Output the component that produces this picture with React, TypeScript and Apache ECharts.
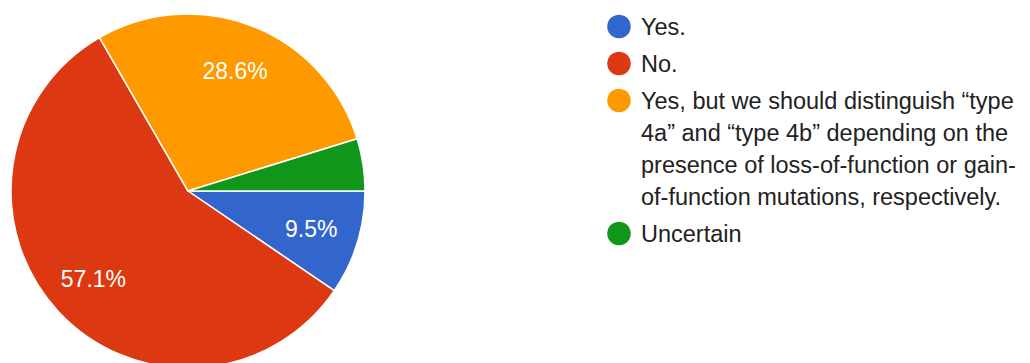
import React, { useEffect, useRef } from "react";
import * as echarts from "echarts";

const categories = [
  "Yes.",
  "No.",
  "Yes, but we should distinguish “type 4a” and “type 4b” depending on the presence of loss-of-function or gain-of-function mutations, respectively.",
  "Uncertain",
];
// wrapped legend lines for each category
const legendLines = [
  ["Yes."],
  ["No."],
  [
    "Yes, but we should distinguish “type",
    "4a” and “type 4b” depending on the",
    "presence of loss-of-function or gain-",
    "of-function mutations, respectively.",
  ],
  ["Uncertain"],
];
const counts = [2, 12, 6, 1];
const colors = ["#3366CC", "#DC3912", "#FF9900", "#109618"];

const FONT = "Arial, 'Liberation Sans', sans-serif";

export default function App() {
  const ref = useRef<HTMLDivElement>(null);
  useEffect(() => {
    if (!ref.current) return;
    const chart = echarts.init(ref.current, undefined, { renderer: "svg" });
    const data = categories.map((name, i) => ({
      name,
      value: counts[i],
      itemStyle: { color: colors[i] },
    }));
    const labelData = categories.map((name, i) => ({
      name,
      value: counts[i],
      itemStyle: { color: "rgba(0,0,0,0)" },
    }));

    // legend drawn with graphic elements (icon aligned to first line)
    const lineH = 32;
    const legendX = 619;
    const textX = 641;
    let y = 26.5;
    const legendEls: any[] = [];
    legendLines.forEach((lines, i) => {
      legendEls.push({
        type: "circle",
        shape: { cx: legendX, cy: y, r: 11.8 },
        style: { fill: colors[i] },
      });
      legendEls.push({
        type: "text",
        x: textX,
        y: y - lineH / 2,
        style: {
          text: lines.join("\n"),
          fontSize: 23.5,
          fontFamily: FONT,
          lineHeight: lineH,
          fill: "#222222",
          verticalAlign: "top",
          align: "left",
        },
      });
      y += lines.length * lineH + 5;
    });

    chart.setOption({
      animation: false,
      backgroundColor: "#ffffff",
      series: [
        {
          type: "pie",
          center: [188, 191],
          radius: [0, 177],
          startAngle: 0,
          clockwise: true,
          silent: true,
          itemStyle: { borderColor: "#ffffff", borderWidth: 1.5 },
          label: { show: false },
          labelLine: { show: false },
          data,
        },
        {
          type: "pie",
          center: [188, 191],
          radius: [75, 177],
          startAngle: 0,
          clockwise: true,
          silent: true,
          percentPrecision: 1,
          label: {
            show: true,
            position: "inside",
            color: "#ffffff",
            fontSize: 23,
            fontFamily: FONT,
            formatter: (p: any) => (p.percent < 5 ? "" : p.percent.toFixed(1) + "%"),
          },
          labelLine: { show: false },
          data: labelData,
        },
      ],
      graphic: legendEls,
    });
    return () => chart.dispose();
  }, []);
  return (
    <div
      ref={ref}
      style={{ position: "absolute", left: 0, top: 0, width: 1030, height: 363 }}
    />
  );
}
